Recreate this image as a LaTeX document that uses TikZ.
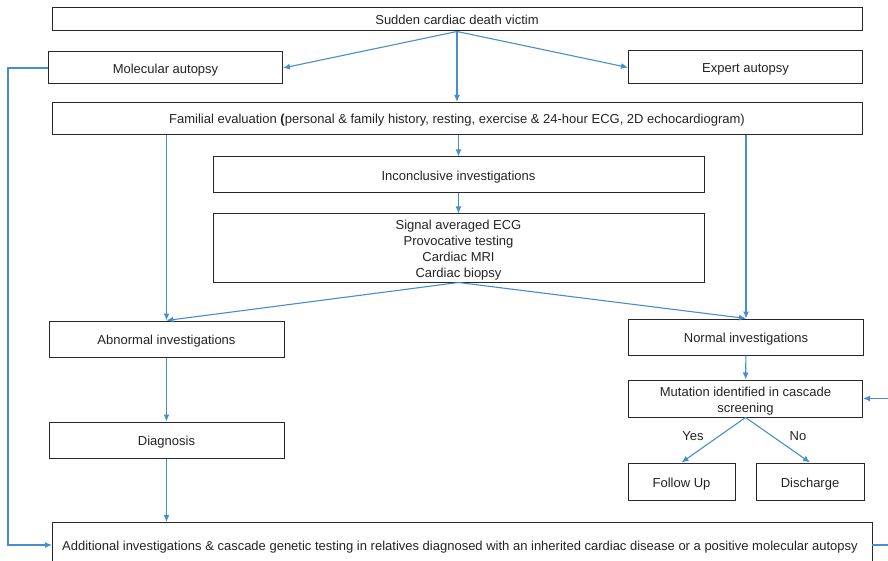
\documentclass[tikz,border=0pt]{standalone}
\usepackage{fontspec}
\setmainfont{Liberation Sans}
\usetikzlibrary{arrows.meta}
\definecolor{flowblue}{RGB}{72,141,204}
\definecolor{boxgray}{RGB}{40,40,40}
\definecolor{textgray}{RGB}{35,35,35}
\begin{document}
\begin{tikzpicture}[x=1pt,y=-1pt,
  every node/.style={font=\fontsize{13}{16}\selectfont, text=textgray},
  box/.style={draw=boxgray, line width=1pt, inner sep=0pt, align=center},
  oneline/.style={text height=11pt, text depth=0pt},
  plain/.style={inner sep=0pt, align=center},
  flow/.style={draw=flowblue, line width=1.1pt, -{Latex[length=7pt,width=6pt]}}]
\useasboundingbox (0,0) rectangle (888,561);

% boxes
\node[box, oneline, minimum width=810, minimum height=23] (sudden) at (457,19.5) {Sudden cardiac death victim};
\node[box, oneline, minimum width=234, minimum height=32] (mol) at (165.5,68) {Molecular autopsy};
\node[box, oneline, minimum width=234, minimum height=33] (expert) at (745.5,67.5) {Expert autopsy};
\node[box, oneline, minimum width=810, minimum height=32] (fam) at (457,118.5)
  {Familial evaluation \textbf{(}personal \& family history, resting, exercise \& 24-hour ECG, 2D echocardiogram)};
\node[box, oneline, minimum width=491, minimum height=36] (incon) at (458.5,175) {Inconclusive investigations};
\node[box, minimum width=491, minimum height=68] (tests) at (458.5,248) {};
\node[plain] (teststext) at (458.5,250.5)
  {Signal averaged ECG\\Provocative testing\\Cardiac MRI\\Cardiac biopsy};
\node[box, oneline, minimum width=235, minimum height=36] (abn) at (166.5,339) {Abnormal investigations};
\node[box, oneline, minimum width=235, minimum height=36] (diag) at (166.5,440) {Diagnosis};
\node[box, oneline, minimum width=235, minimum height=36] (normal) at (746,337) {Normal investigations};
\node[box, minimum width=234, minimum height=37] (mut) at (745.5,398.5) {};
\node[plain] (muttext) at (745.5,401.5) {Mutation identified in cascade\\screening};
\node[box, oneline, minimum width=107, minimum height=37] (follow) at (681.5,481.5) {Follow Up};
\node[box, oneline, minimum width=108, minimum height=37] (disch) at (810,481.5) {Discharge};
\node[box, minimum width=820, minimum height=48, anchor=north west] (additional) at (52,522) {};
\node[oneline, anchor=west, inner sep=0pt] (addtext) at (62,545)
  {Additional investigations \& cascade genetic testing in relatives diagnosed with an inherited cardiac disease or a positive molecular autopsy};

% yes / no labels
\node[oneline] (yes) at (693,435) {Yes};
\node[oneline] (no) at (798,435) {No};

% connectors
\coordinate (split) at (sudden.south);
\draw[flow] (split) -- (mol.east);
\draw[flow] (split) -- (expert.west);
\draw[flow] (split) -- (fam.north);
\draw[flow] (fam.south -| incon.north) -- (incon.north);
\draw[flow] (incon) -- (tests);
\draw[flow] (fam.south -| abn.north) -- (abn.north);
\draw[flow] (fam.south -| normal.north) -- (normal.north);
\draw[flow] (tests.south) -- (abn.north);
\draw[flow] (tests.south) -- (normal.north);
\draw[flow] (abn) -- (diag);
\draw[flow] (diag.south) -- (diag.south |- additional.north);
\draw[flow] (normal) -- (mut);
\draw[flow] (mut.south) -- (follow.north);
\draw[flow] (mut.south) -- (disch.north);

% feedback loops
\coordinate (leftrail) at (8,68);
\coordinate (addleft) at (52,545);
\draw[flow] (mol.west) -- (leftrail) -- (leftrail |- addleft) -- (addleft);
\coordinate (addright) at (872,545);
\coordinate (rightrail) at (900,545);
\draw[flow] (addright) -- (rightrail) -- (rightrail |- mut.east) -- (mut.east);
\end{tikzpicture}
\end{document}
